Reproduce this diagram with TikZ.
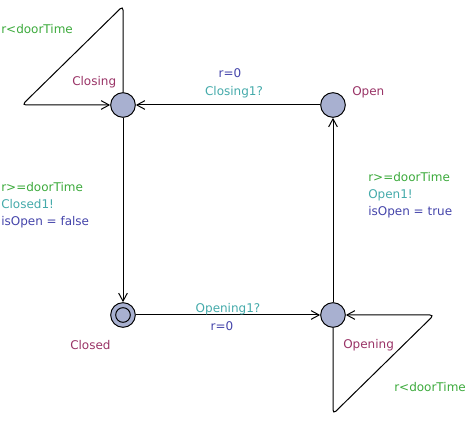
\documentclass[tikz,border=0pt]{standalone}
\usepackage{fontspec}
\setmainfont{DejaVu Sans}
\usetikzlibrary{arrows.meta}
\definecolor{uloc}{HTML}{A8B0D0}
\definecolor{uname}{HTML}{993366}
\definecolor{uguard}{HTML}{3CAA3C}
\definecolor{usync}{HTML}{44AAAA}
\definecolor{uupd}{HTML}{4444AA}

\begin{document}
\begin{tikzpicture}[x=0.75pt,y=-0.75pt,
  loc/.style={circle,draw,fill=uloc,line width=0.75pt,minimum size=18.5pt,inner sep=0pt},
  lbl/.style={font=\fontsize{9}{11}\selectfont,inner sep=0pt},
  edge/.style={line width=0.75pt,-{Straight Barb[length=6pt,width=6.5pt]}}]
 \useasboundingbox (0,0) rectangle (469,424);
 % locations
 \node[loc] (closing) at (123,105) {};
 \node[loc] (open) at (333,105) {};
 \node[loc] (closed) at (123,315) {};
 \node[loc] (opening) at (333,315) {};
 \draw[line width=0.75pt] (closed.center) circle (5.5pt);
 \node[lbl,uname,anchor=west] (nclosing) at (72,82) {Closing};
 \node[lbl,uname,anchor=west] (nopen) at (352,92) {Open};
 \node[lbl,uname,anchor=west] (nclosed) at (70,345) {Closed};
 \node[lbl,uname,anchor=west] (nopening) at (343,345) {Opening};
 % loop corners
 \coordinate (cltop) at (123,6);
 \coordinate (clleft) at (22,105);
 \coordinate (opbot) at (333,414);
 \coordinate (opright) at (434,315);
 % edges
 \draw[edge] (open) -- (closing);
 \draw[edge] (closing) -- (closed);
 \draw[edge] (closed) -- (opening);
 \draw[edge] (opening) -- (open);
 \draw[edge,rounded corners=3pt] (closing.north) -- (cltop) -- (clleft) -- (closing.west);
 \draw[edge,rounded corners=3pt] (opening.south) -- (opbot) -- (opright) -- (opening.east);
 % edge labels
 \node[lbl,uguard,anchor=west] (gclosing) at (1,29) {r<doorTime};
 \node[lbl,uupd] (uclosing) at (230,73) {r=0};
 \node[lbl,usync] (sclosing) at (234,92) {Closing1?};
 \node[lbl,uguard,anchor=west] (gclosed) at (1,187) {r>=doorTime};
 \node[lbl,usync,anchor=west] (sclosed) at (1,204) {Closed1!};
 \node[lbl,uupd,anchor=west] (uclosed) at (1,222) {isOpen = false};
 \node[lbl,uguard,anchor=west] (gopen) at (368,177) {r>=doorTime};
 \node[lbl,usync,anchor=west] (sopen) at (368,195) {Open1!};
 \node[lbl,uupd,anchor=west] (uopen) at (368,212) {isOpen = true};
 \node[lbl,usync] (sopening) at (228,309) {Opening1?};
 \node[lbl,uupd] (uopening) at (222,326) {r=0};
 \node[lbl,uguard,anchor=west] (gopening) at (394,387) {r<doorTime};
\end{tikzpicture}
\end{document}
